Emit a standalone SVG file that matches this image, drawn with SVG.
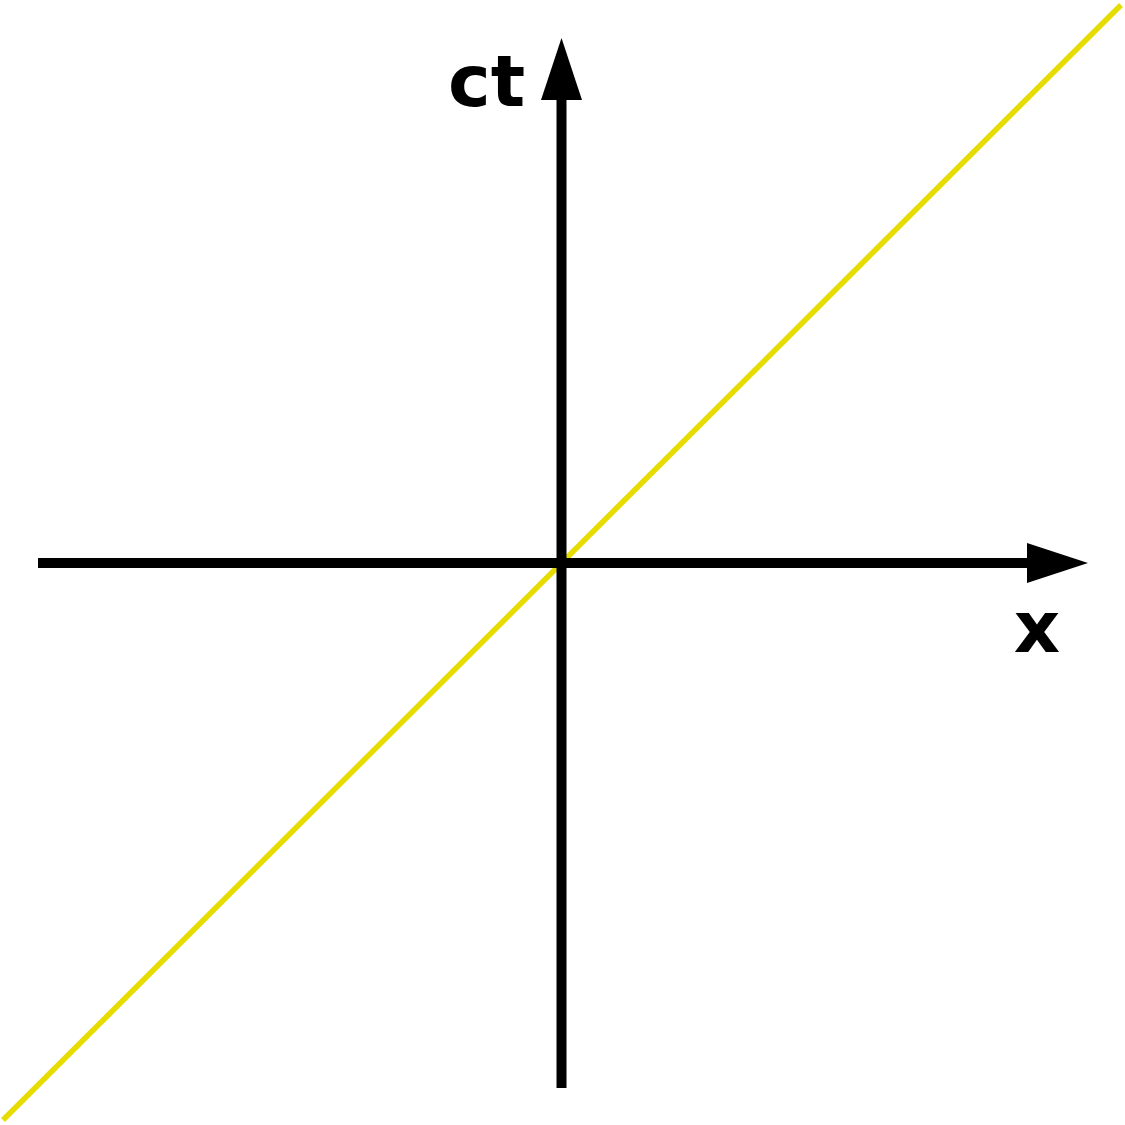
<svg xmlns="http://www.w3.org/2000/svg" width="1125" height="1125" viewBox="0 0 1125 1125">
<style>
.axis{stroke:#000;stroke-width:10;fill:none}
.head{fill:#000;stroke:none}
.light{stroke:#e6dc00;stroke-width:5.5;fill:none}
.lbl{font-family:"DejaVu Sans",sans-serif;font-weight:bold;font-size:72px;fill:#000}
</style>
<rect width="1125" height="1125" fill="#fff"/>
<g id="connectors">
<line class="light" x1="3" y1="1120" x2="1121" y2="5"/>
<line class="axis" x1="38" y1="563" x2="1030" y2="563"/>
<polygon class="head" points="1027,543 1088,563 1027,583"/>
<line class="axis" x1="561.5" y1="1088" x2="561.5" y2="98"/>
<polygon class="head" points="541,100 561.5,38 582,100"/>
</g>
<g id="label-ct"><text class="lbl" x="448" y="106">ct</text></g>
<g id="label-x"><text class="lbl" x="1037" y="652" text-anchor="middle">x</text></g>
</svg>
